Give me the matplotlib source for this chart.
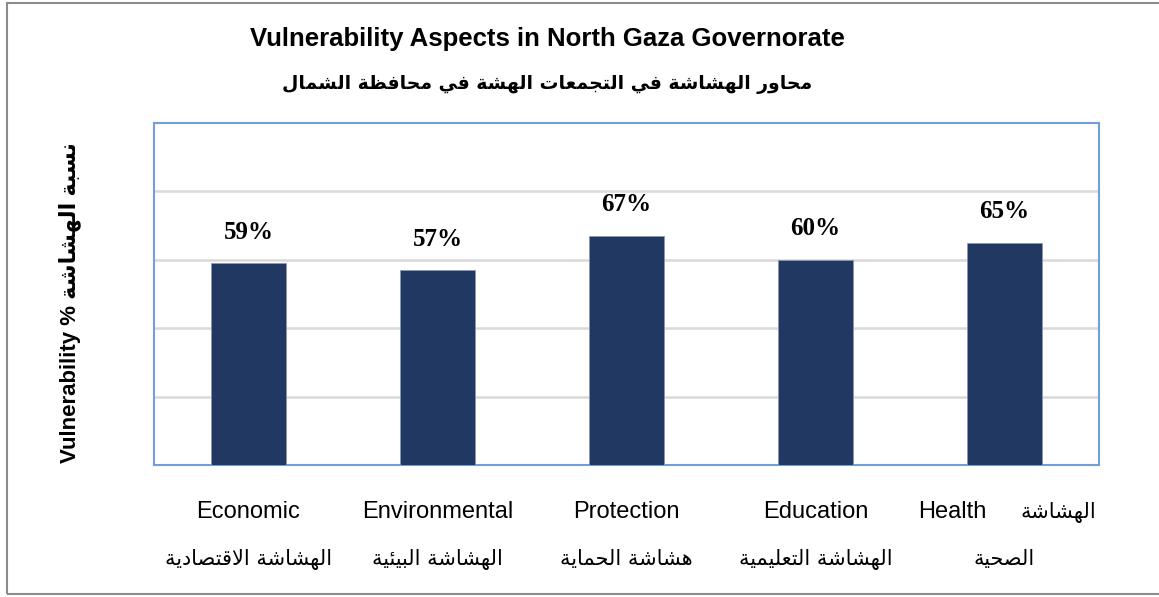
import matplotlib
matplotlib.use('Agg')
import matplotlib.pyplot as plt
from matplotlib.patches import Rectangle

# data
cats_en = ['Economic', 'Environmental', 'Protection', 'Education', 'Health']
cats_ar = ['الهشاشة الاقتصادية', 'الهشاشة البيئية', 'هشاشة الحماية',
           'الهشاشة التعليمية', 'الهشاشة الصحية']
values = [59, 57, 67, 60, 65]

title_en = 'Vulnerability Aspects in North Gaza Governorate'
title_ar = 'محاور الهشاشة في التجمعات الهشة في محافظة الشمال'
ylabel_en = 'Vulnerability %'
ylabel_ar = 'نسبة الهشاشة'

# matplotlib has no arabic shaping, so pick the presentation forms by hand
# letter -> (isolated form codepoint, joins to the next letter)
AR_FORMS = {
    'ا': (0xFE8D, False), 'ب': (0xFE8F, True), 'ة': (0xFE93, False),
    'ت': (0xFE95, True), 'ج': (0xFE9D, True), 'ح': (0xFEA1, True),
    'د': (0xFEA9, False), 'ر': (0xFEAD, False), 'س': (0xFEB1, True),
    'ش': (0xFEB5, True), 'ص': (0xFEB9, True), 'ظ': (0xFEC5, True),
    'ع': (0xFEC9, True), 'ف': (0xFED1, True), 'ق': (0xFED5, True),
    'ل': (0xFEDD, True), 'م': (0xFEE1, True), 'ن': (0xFEE5, True),
    'ه': (0xFEE9, True), 'و': (0xFEED, False), 'ي': (0xFEF1, True),
    'ئ': (0xFE89, True),
}


def shape(text):
    out = []
    i = 0
    while i < len(text):
        c = text[i]
        if c not in AR_FORMS:
            out.append(c)
            i += 1
            continue
        prev = text[i - 1] if i > 0 else None
        joins_prev = prev in AR_FORMS and AR_FORMS[prev][1]
        # lam + alef ligature
        if c == 'ل' and i + 1 < len(text) and text[i + 1] == 'ا':
            out.append(chr(0xFEFC if joins_prev else 0xFEFB))
            i += 2
            continue
        nxt = text[i + 1] if i + 1 < len(text) else None
        joins_next = AR_FORMS[c][1] and nxt in AR_FORMS
        if joins_prev and joins_next:
            form = 3
        elif joins_prev:
            form = 1
        elif joins_next:
            form = 2
        else:
            form = 0
        out.append(chr(AR_FORMS[c][0] + form))
        i += 1
    # visual order is right to left
    return ''.join(reversed(out))


W, H = 1159, 597
fig = plt.figure(figsize=(W / 100, H / 100), dpi=100)
ax = fig.add_axes([154 / W, 1 - 465 / H, 945 / W, 342 / H])

x = list(range(len(cats_en)))
bars = ax.bar(x, values, width=0.4, color='#213863', edgecolor='#8a97ad', linewidth=0.6, zorder=3)
ax.bar_label(bars, labels=['%d%%' % v for v in values], padding=14,
             fontsize=18, fontweight='bold', family='Liberation Serif')

ax.set_xlim(-0.5, 4.5)
ax.set_ylim(0, 100)
ax.set_yticks([20, 40, 60, 80])
ax.yaxis.grid(True, color='#d9d9d9', linewidth=1.8, zorder=0)
ax.tick_params(length=0, labelleft=False, labelbottom=False)
for s in ax.spines.values():
    s.set_color('#6fa0d8')
    s.set_linewidth(1.5)

# two rows of category labels, the last one wraps like in the source
tr = ax.get_xaxis_transform()
en_font = ['Liberation Sans', 'DejaVu Sans']
for i in x[:4]:
    ax.text(i, -0.155, cats_en[i], transform=tr, ha='center', va='baseline',
            fontsize=17, family=en_font)
    ax.text(i, -0.292, shape(cats_ar[i]), transform=tr, ha='center', va='baseline',
            fontsize=15, family='DejaVu Sans')
health_ar = cats_ar[4].split()
ax.text(x[4] - 0.093, -0.155, cats_en[4], transform=tr, ha='right', va='baseline',
        fontsize=17, family=en_font)
ax.text(x[4] + 0.085, -0.155, shape(health_ar[0]), transform=tr, ha='left', va='baseline',
        fontsize=15, family='DejaVu Sans')
ax.text(x[4], -0.292, shape(health_ar[1]), transform=tr, ha='center', va='baseline',
        fontsize=15, family='DejaVu Sans')

# titles
fig.text(547 / W, 1 - 46 / H, title_en, ha='center', va='baseline',
         fontsize=18.5, fontweight='bold', family='Liberation Sans')
fig.text(547 / W, 1 - 89 / H, shape(title_ar), ha='center', va='baseline',
         fontsize=13.5, fontweight='bold', family='DejaVu Sans')

fig.text(70 / W, 1 - 303 / H, ylabel_en + ' ' + shape(ylabel_ar), rotation=90,
         ha='center', va='center', fontsize=16, fontweight='bold',
         family=['Liberation Sans', 'DejaVu Sans'])

# outer chart frame (right side runs off the picture)
fig.add_artist(Rectangle((7 / W, 1 - 594 / H), 1.2, 591 / H, transform=fig.transFigure,
                         fill=False, edgecolor='#8c8c8c', linewidth=1.5))

fig.savefig('out.png', dpi=100)
